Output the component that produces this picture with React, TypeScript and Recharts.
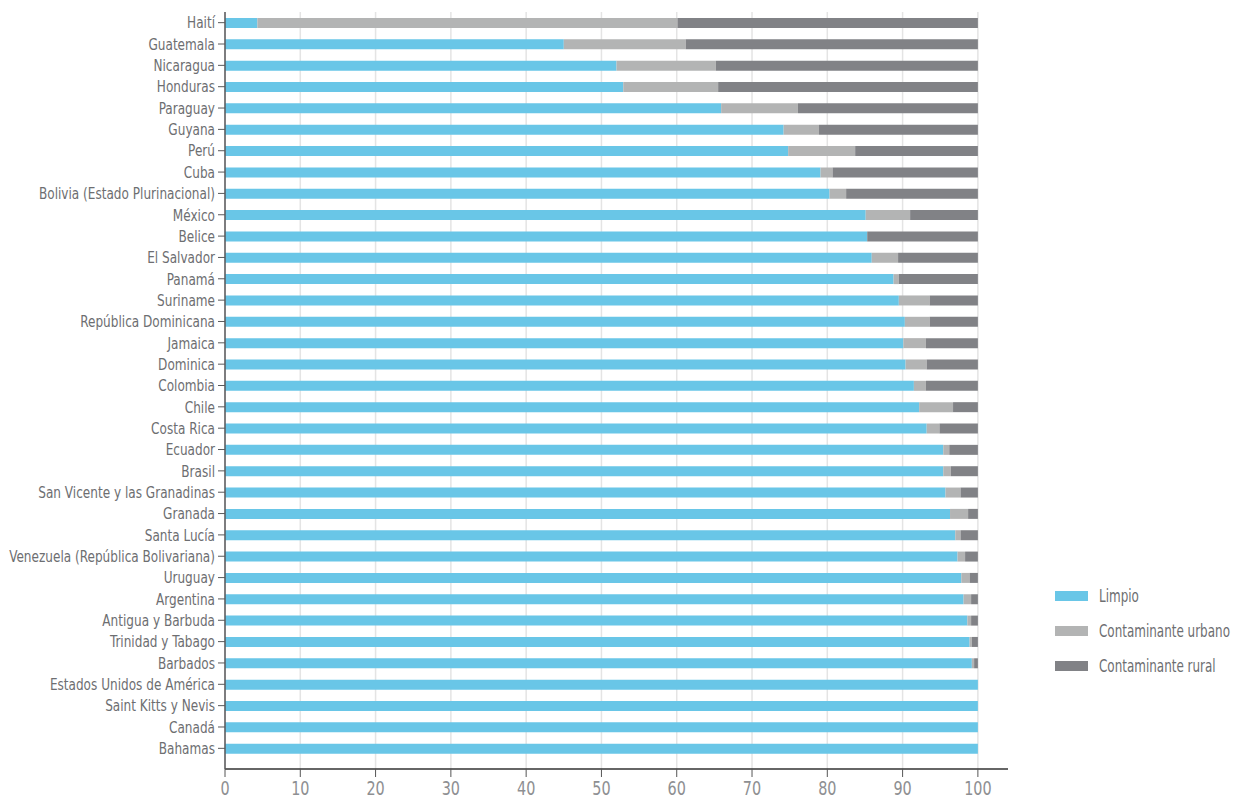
import React from "react";
import {
  BarChart,
  Bar,
  XAxis,
  YAxis,
  CartesianGrid,
  Legend,
} from "recharts";

const countries = [
  "Haití", "Guatemala", "Nicaragua", "Honduras", "Paraguay", "Guyana", "Perú", "Cuba",
  "Bolivia (Estado Plurinacional)", "México", "Belice", "El Salvador", "Panamá", "Suriname",
  "República Dominicana", "Jamaica", "Dominica", "Colombia", "Chile", "Costa Rica", "Ecuador",
  "Brasil", "San Vicente y las Granadinas", "Granada", "Santa Lucía",
  "Venezuela (República Bolivariana)", "Uruguay", "Argentina", "Antigua y Barbuda",
  "Trinidad y Tabago", "Barbados", "Estados Unidos de América", "Saint Kitts y Nevis",
  "Canadá", "Bahamas",
];

const limpio = [
  4.3, 45.0, 52.0, 52.9, 65.9, 74.2, 74.8, 79.1, 80.3, 85.1, 85.3, 85.9, 88.8, 89.5,
  90.3, 90.1, 90.4, 91.5, 92.2, 93.2, 95.4, 95.4, 95.7, 96.3, 97.0, 97.3, 97.8, 98.1,
  98.6, 98.9, 99.2, 100, 100, 100, 100,
];

const urbano = [
  55.8, 16.2, 13.2, 12.6, 10.2, 4.7, 8.9, 1.6, 2.2, 5.9, 0, 3.5, 0.7, 4.1,
  3.3, 3.0, 2.8, 1.6, 4.5, 1.7, 0.8, 1.0, 2.0, 2.4, 0.7, 1.0, 1.1, 1.0,
  0.5, 0.3, 0.3, 0, 0, 0, 0,
];

const rural = [
  39.9, 38.8, 34.8, 34.5, 23.9, 21.1, 16.3, 19.3, 17.5, 9.0, 14.7, 10.6, 10.5, 6.4,
  6.4, 6.9, 6.8, 6.9, 3.3, 5.1, 3.8, 3.6, 2.3, 1.3, 2.3, 1.7, 1.1, 0.9,
  0.9, 0.8, 0.5, 0, 0, 0, 0,
];

const xTicks = [0, 10, 20, 30, 40, 50, 60, 70, 80, 90, 100];
const xDomain = [0, 104];

const data = countries.map((name, i) => ({
  name,
  limpio: limpio[i],
  urbano: urbano[i],
  rural: rural[i],
}));

const FONT = "'DejaVu Sans Condensed', 'Liberation Sans Narrow', sans-serif";
const TEXT = "#6d6e71";

const series = [
  { key: "limpio", label: "Limpio", color: "#69c6e7" },
  { key: "urbano", label: "Contaminante urbano", color: "#b3b4b4" },
  { key: "rural", label: "Contaminante rural", color: "#818286" },
];

// gridlines only at the labelled ticks, not at the end of the padded domain
const gridX = (props: any) => {
  const { offset } = props;
  const sc = props.xAxis && props.xAxis.scale;
  if (typeof sc === "function") return xTicks.map((t) => sc(t));
  return xTicks.map(
    (t) => offset.left + ((t - xDomain[0]) / (xDomain[1] - xDomain[0])) * offset.width
  );
};

// the original uses a very narrow face, so squeeze the condensed font a bit
const YTick = ({ x, y, payload }: any) => (
  <text
    transform={`translate(${x},${y}) scale(0.84,1)`}
    textAnchor="end"
    dy="0.36em"
    fill={TEXT}
    fontSize={16}
    fontFamily={FONT}
  >
    {payload.value}
  </text>
);

const XTick = ({ x, y, payload }: any) => (
  <text
    transform={`translate(${x},${y}) scale(0.8,1)`}
    textAnchor="middle"
    dy="0.71em"
    fill="#8e8f92"
    fontSize={20}
    fontFamily={FONT}
  >
    {payload.value}
  </text>
);

function LegendBox() {
  return (
    <div style={{ fontFamily: FONT, width: 180 }}>
      {series.map((s) => (
        <div key={s.key} style={{ display: "flex", alignItems: "center", height: 35 }}>
          <div style={{ width: 33, height: 10, background: s.color, marginRight: 11, flex: "none" }} />
          <span
            style={{
              flex: "none",
              width: 130,
              fontSize: 17.5,
              lineHeight: "20px",
              color: TEXT,
              whiteSpace: "nowrap",
              display: "inline-block",
              transform: "scaleX(0.76)",
              transformOrigin: "left center",
            }}
          >
            {s.label}
          </span>
        </div>
      ))}
    </div>
  );
}

export default function App() {
  return (
    <div style={{ width: 1236, height: 793 }}>
      <BarChart
        width={1236}
        height={793}
        data={data}
        layout="vertical"
        margin={{ top: 4, right: 236, bottom: 2, left: 0 }}
        barSize={10}
      >
        <CartesianGrid
          horizontal={false}
          stroke="#e4e4e4"
          strokeWidth={1.5}
          verticalCoordinatesGenerator={gridX}
        />
        <XAxis
          type="number"
          domain={xDomain}
          ticks={xTicks}
          allowDataOverflow
          height={30}
          tickSize={8}
          tickMargin={4}
          axisLine={{ stroke: "#333", strokeWidth: 1.5 }}
          tickLine={{ stroke: "#555" }}
          tick={<XTick />}
        />
        <YAxis
          type="category"
          dataKey="name"
          width={217}
          interval={0}
          padding={{ top: 0, bottom: 10 }}
          tickSize={7}
          tickMargin={3}
          axisLine={{ stroke: "#58595b", strokeWidth: 1.5 }}
          tickLine={{ stroke: "#58595b" }}
          tick={<YTick />}
        />
        <Legend
          layout="vertical"
          align="center"
          verticalAlign="middle"
          content={() => <LegendBox />}
          wrapperStyle={{ left: 1047, top: 570, width: 180 }}
        />
        {series.map((s) => (
          <Bar
            key={s.key}
            dataKey={s.key}
            name={s.label}
            stackId="a"
            fill={s.color}
            isAnimationActive={false}
          />
        ))}
      </BarChart>
    </div>
  );
}
